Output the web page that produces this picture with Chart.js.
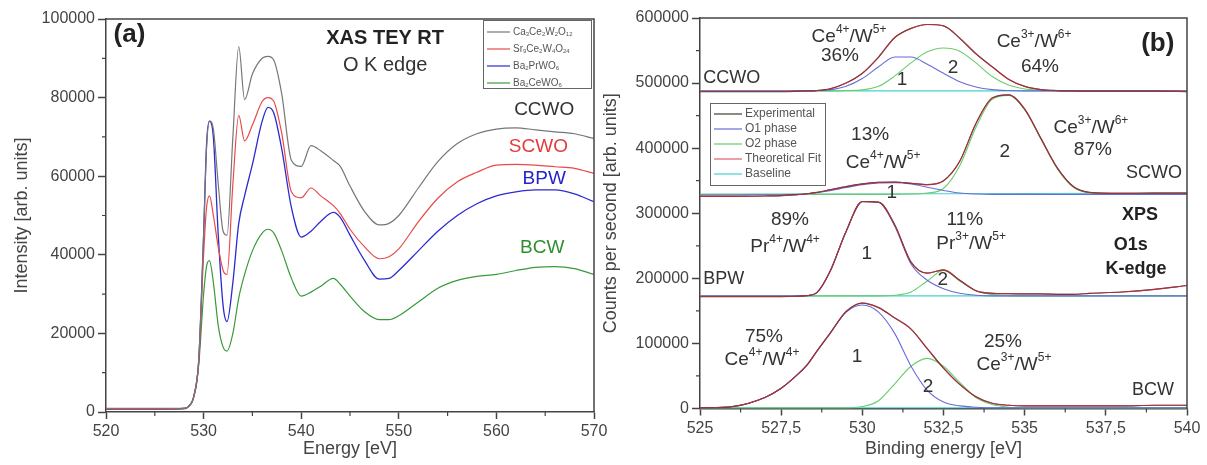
<!DOCTYPE html>
<html>
<head>
<meta charset="utf-8">
<script src="https://cdn.jsdelivr.net/npm/chart.js@4.4.0/dist/chart.umd.min.js"></script>
<style>
  html, body { margin: 0; padding: 0; background: #fff; }
  #wrap { position: relative; width: 1207px; height: 465px; overflow: hidden; }
  #chartA { position: absolute; left: 0; top: 0; }
  #chartB { position: absolute; left: 600px; top: 0; }
</style>
</head>
<body>
<div id="wrap">
  <canvas id="chartA" width="620" height="465"></canvas>
  <canvas id="chartB" width="607" height="465"></canvas>
</div>
<script>
// ---- Panel (a): XAS O K edge ----
const energyA = [520, 522, 524, 526, 528, 528.5, 529, 529.5, 530, 530.3,
  530.6, 531, 531.5, 532, 532.4, 533, 533.6, 534.2, 535, 536,
  536.6, 537.2, 538, 539, 540, 541, 542, 543.3, 544, 545,
  546.5, 548, 549, 550, 552, 554, 556, 558, 560, 562,
  564, 566, 568, 570];
const ccwoA = [900, 900, 900, 900, 1000, 1500, 4000, 13000, 45000, 67000,
  74000, 72000, 58000, 46000, 45000, 70000, 93000, 79500, 86000, 90000,
  90500, 89500, 81000, 64000, 62500, 67800, 66500, 64000, 62500, 57500,
  51000, 47600, 48000, 50000, 57000, 63700, 68300, 70800, 72000, 72300,
  71800, 71300, 70800, 69600];
const scwoA = [700, 700, 700, 700, 900, 1500, 4000, 13000, 40000, 52000,
  55000, 50000, 42000, 36000, 35000, 58000, 75500, 69000, 73000, 79000,
  80000, 79000, 71000, 56000, 54500, 57000, 55000, 52500, 50500, 46500,
  42000, 39000, 39500, 41500, 48400, 54400, 58600, 61000, 62800, 63000,
  62800, 62400, 62000, 60700];
const bpwA = [700, 700, 700, 700, 900, 1500, 4000, 13000, 45000, 68000,
  74000, 70000, 45000, 27000, 23000, 33000, 48000, 55000, 63000, 74000,
  77500, 76000, 67000, 52000, 44500, 46000, 48500, 50800, 49500, 45000,
  38500, 33800, 34000, 36000, 41000, 46000, 50000, 53000, 55000, 56000,
  56500, 56500, 55500, 53500];
const bcwA = [700, 700, 700, 700, 800, 1500, 4000, 12000, 30000, 37000,
  38500, 33000, 22000, 16500, 15500, 20000, 29000, 35000, 41000, 45500,
  46500, 45500, 41000, 34000, 29500, 30500, 32000, 34000, 32500, 29500,
  25500, 23500, 23500, 24500, 28000, 31500, 33500, 34500, 35000, 36000,
  36800, 37000, 36500, 35000];
const legendA = ['Ca_{3}Ce_{2}W_{2}O_{12}', 'Sr_{9}Ce_{2}W_{4}O_{24}', 'Ba_{2}PrWO_{6}', 'Ba_{2}CeWO_{6}'];

// ---- Panel (b): XPS O1s ----
const energyB = [525, 526, 527, 527.5, 528, 528.3, 528.6, 529, 529.5, 530,
  530.5, 531, 531.5, 532, 532.5, 533, 533.5, 534, 534.5, 535,
  535.5, 536, 536.5, 537, 538, 539, 540];
const baseEnergyB = [525, 540];

const ccwoExp = [487000, 487000, 487000, 487000, 487500, 488000, 488500, 491000, 500000, 515000,
  540000, 570000, 584000, 590000, 588000, 569000, 545000, 525000, 506000, 495000,
  490000, 488500, 488000, 487500, 487500, 487500, 487000];
const ccwoO1 = [488000, 488000, 488000, 488000, 488000, 488000, 488500, 489500, 495000, 507000,
  525000, 540000, 540000, 529000, 515000, 502000, 494000, 490000, 488500, 488000,
  488000, 488000, 488000, 488000, 488000, 488000, 488000];
const ccwoO2 = [488000, 488000, 488000, 488000, 488000, 488000, 488000, 488000, 488500, 489500,
  495000, 511000, 531000, 548000, 554000, 549000, 531000, 510000, 497000, 491000,
  489000, 488000, 488000, 488000, 488000, 488000, 488000];
const ccwoBase = [488000, 488000];

const scwoExp = [326000, 326000, 326500, 327000, 328500, 330000, 332000, 336000, 341000, 345000,
  347500, 348000, 346000, 344000, 350000, 380000, 438000, 477000, 482000, 460000,
  415000, 370000, 341000, 332000, 330500, 331000, 331000];
const scwoO1 = [328000, 328000, 328500, 328500, 329000, 330000, 331500, 334500, 339500, 344000,
  346500, 347000, 345000, 340000, 335000, 331000, 329500, 329000, 329000, 329000,
  329000, 329000, 329000, 329000, 329000, 329000, 329000];
const scwoO2 = [329000, 329000, 329000, 329000, 329000, 329000, 329000, 329000, 329000, 329000,
  329000, 329000, 329500, 331000, 338000, 373000, 432000, 475000, 481000, 459000,
  414000, 369000, 340000, 331500, 329500, 329000, 329000];
const scwoBase = [329000, 331000];

const bpwExp = [172000, 172000, 172000, 172000, 172500, 173500, 178000, 210000, 272000, 318000,
  317000, 282000, 225000, 208000, 213000, 197000, 181000, 177000, 176500, 176000,
  176000, 175500, 175500, 177000, 179000, 183000, 189000];
const bpwO1 = [173000, 173000, 173000, 173000, 173000, 173500, 178000, 210000, 272000, 318000,
  317000, 280000, 222000, 197000, 184000, 177000, 174000, 173000, 173000, 173000,
  173000, 173000, 173000, 173000, 173000, 173000, 173000];
const bpwO2 = [173000, 173000, 173000, 173000, 173000, 173000, 173000, 173000, 173000, 173000,
  173000, 174000, 179000, 196000, 212000, 196000, 181000, 175000, 173500, 173000,
  173000, 173000, 173000, 173000, 173000, 173000, 173000];
const bpwBase = [173000, 173000];

const bcwExp = [1000, 3000, 17000, 31000, 52000, 67000, 88000, 115000, 149000, 162000,
  155000, 139000, 122000, 92000, 62000, 37000, 18000, 8000, 5000, 4000,
  4000, 4000, 4000, 4000, 4000, 5000, 5000];
const bcwO1 = [1000, 3000, 17000, 31000, 52000, 67000, 88000, 115000, 148000, 159000,
  148000, 115000, 65000, 28000, 10000, 4000, 2000, 1000, 1000, 1000,
  1000, 1000, 1000, 1000, 1000, 1000, 1000];
const bcwO2 = [1000, 1000, 1000, 1000, 1000, 1000, 1000, 1000, 1000, 3000,
  12000, 38000, 65000, 77000, 65000, 40000, 17000, 6000, 2000, 1000,
  1000, 1000, 1000, 1000, 1000, 1000, 1000];
const bcwBase = [1000, 1000];
const legendB = ['Experimental', 'O1 phase', 'O2 phase', 'Theoretical Fit', 'Baseline'];

// ---- styling ----
const FONT = '"Liberation Sans", Arial, Helvetica, sans-serif';
Chart.defaults.font.family = FONT;
const colA = { ccwo: '#777777', scwo: '#e84a4a', bpw: '#2b2bd0', bcw: '#3a9a3a' };
const colB = { exp: '#3d3d30', o1: '#6b6bd6', o2: '#6ccc6c', fit: 'rgba(212,40,64,0.75)', base: '#45d2cc' };

function series(xs, ys) {
  return xs.map((x, i) => ({ x: x, y: ys[i] }));
}
function line(label, xs, ys, color, width) {
  return {
    label: label, data: series(xs, ys), borderColor: color, borderWidth: width,
    pointRadius: 0, fill: false, cubicInterpolationMode: 'monotone'
  };
}

// text with ^{sup} and _{sub}
function parseRich(text) {
  const parts = [];
  const re = /([\^_])\{([^}]*)\}/g;
  let last = 0, m;
  while ((m = re.exec(text))) {
    if (m.index > last) parts.push({ t: text.slice(last, m.index), k: 'n' });
    parts.push({ t: m[2], k: m[1] === '^' ? 'sup' : 'sub' });
    last = re.lastIndex;
  }
  if (last < text.length) parts.push({ t: text.slice(last), k: 'n' });
  return parts;
}
function drawRich(ctx, text, x, y, size, color, bold, align) {
  const parts = parseRich(text);
  const fontFor = k => (bold ? 'bold ' : '') + (k === 'n' ? size : Math.round(size * 0.62)) + 'px ' + FONT;
  let w = 0;
  parts.forEach(p => { ctx.font = fontFor(p.k); p.w = ctx.measureText(p.t).width; w += p.w; });
  let cx = align === 'left' ? x : align === 'right' ? x - w : x - w / 2;
  ctx.fillStyle = color;
  ctx.textBaseline = 'middle';
  ctx.textAlign = 'left';
  parts.forEach(p => {
    ctx.font = fontFor(p.k);
    const dy = p.k === 'sup' ? -size * 0.38 : p.k === 'sub' ? size * 0.22 : 0;
    ctx.fillText(p.t, cx, y + dy);
    cx += p.w;
  });
}

// frame on top/right + minor ticks
const frameMinor = {
  id: 'frameMinor',
  afterDraw(chart, args, o) {
    const { ctx, chartArea: a, scales: { x, y } } = chart;
    ctx.save();
    ctx.strokeStyle = '#444';
    ctx.lineWidth = 1.5;
    ctx.beginPath();
    ctx.moveTo(a.left, a.top);
    ctx.lineTo(a.right, a.top);
    ctx.lineTo(a.right, a.bottom);
    ctx.stroke();
    ctx.lineWidth = 1.2;
    ctx.beginPath();
    for (let v = x.min + o.xMinor; v < x.max; v += 2 * o.xMinor) {
      const px = x.getPixelForValue(v);
      ctx.moveTo(px, a.bottom);
      ctx.lineTo(px, a.bottom + 4);
    }
    for (let v = y.min + o.yMinor; v < y.max; v += 2 * o.yMinor) {
      const py = y.getPixelForValue(v);
      ctx.moveTo(a.left, py);
      ctx.lineTo(a.left - 4, py);
    }
    ctx.stroke();
    ctx.restore();
  }
};

// boxed legend inside the plot
const boxLegend = {
  id: 'boxLegend',
  afterDraw(chart, args, o) {
    const { ctx, chartArea: a } = chart;
    const left = a.left + o.dx, top = a.top + o.dy;
    ctx.save();
    ctx.strokeStyle = '#666';
    ctx.lineWidth = 1;
    ctx.strokeRect(left + 0.5, top + 0.5, o.w, o.h);
    o.items.forEach((it, i) => {
      const yy = top + o.first + i * o.step;
      ctx.strokeStyle = it.color;
      ctx.lineWidth = 1.2;
      ctx.beginPath();
      ctx.moveTo(left + 4, yy);
      ctx.lineTo(left + 4 + o.lineLen, yy);
      ctx.stroke();
      drawRich(ctx, it.text, left + 7 + o.lineLen, yy, o.size, '#555', false, 'left');
    });
    ctx.restore();
  }
};

// free text placed in data coordinates
const notes = {
  id: 'notes',
  afterDatasetsDraw(chart, args, o) {
    const { ctx, scales: { x, y } } = chart;
    ctx.save();
    o.items.forEach(n => {
      drawRich(ctx, n.t, x.getPixelForValue(n.x), y.getPixelForValue(n.y), n.size || 19,
        n.color || '#333', !!n.bold, n.align || 'center');
    });
    ctx.restore();
  }
};

function makeScales(o) {
  const tickFont = { size: 16, family: FONT };
  return {
    x: {
      type: 'linear', min: o.xMin, max: o.xMax,
      afterFit: s => { s.height = o.xHeight; },
      ticks: { stepSize: o.xStep, autoSkip: false, maxRotation: 0, color: '#444', font: tickFont, padding: 3,
        callback: o.xFormat },
      grid: { drawOnChartArea: false, tickLength: 7, tickWidth: 1.5, tickColor: '#444' },
      border: { color: '#444', width: 1.5 },
      title: { display: true, text: o.xTitle, color: '#444', font: { size: 18, family: FONT }, padding: { top: 0, bottom: 4 } }
    },
    y: {
      type: 'linear', min: o.yMin, max: o.yMax,
      afterFit: s => { s.width = o.yWidth; },
      ticks: { stepSize: o.yStep, autoSkip: false, color: '#444', font: tickFont, padding: 3, callback: v => String(v) },
      grid: { drawOnChartArea: false, tickLength: 8, tickWidth: 1.5, tickColor: '#444' },
      border: { color: '#444', width: 1.5 },
      title: { display: true, text: o.yTitle, color: '#444', font: { size: 18, family: FONT }, padding: { top: o.yTitlePad, bottom: 0 } }
    }
  };
}

// ---- chart (a) ----
new Chart(document.getElementById('chartA'), {
  type: 'line',
  data: {
    datasets: [
      line('CCWO', energyA, ccwoA, colA.ccwo, 1.2),
      line('SCWO', energyA, scwoA, colA.scwo, 1.2),
      line('BPW', energyA, bpwA, colA.bpw, 1.3),
      line('BCW', energyA, bcwA, colA.bcw, 1.2)
    ]
  },
  options: {
    responsive: false,
    animation: false,
    layout: { padding: { top: 19, right: 26, bottom: 1, left: 0 } },
    scales: makeScales({
      xMin: 520, xMax: 570, xStep: 10, xTitle: 'Energy [eV]', xHeight: 52,
      xFormat: v => String(v),
      yMin: 0, yMax: 100000, yStep: 20000, yTitle: 'Intensity [arb. units]', yWidth: 106, yTitlePad: 11
    }),
    plugins: {
      legend: { display: false },
      tooltip: { enabled: false },
      frameMinor: { xMinor: 5, yMinor: 10000 },
      boxLegend: {
        dx: 377, dy: 1, w: 108, h: 68, first: 12, step: 17, lineLen: 23, size: 10,
        items: legendA.map((t, i) => ({ text: t, color: [colA.ccwo, colA.scwo, colA.bpw, colA.bcw][i] }))
      },
      notes: {
        items: [
          { t: '(a)', x: 522.4, y: 96000, size: 26, bold: true, color: '#222' },
          { t: 'XAS TEY RT', x: 548.6, y: 95000, size: 20, bold: true, color: '#222' },
          { t: 'O K edge', x: 548.6, y: 88200, size: 20, color: '#333' },
          { t: 'CCWO', x: 564.9, y: 76800, size: 19, color: '#333' },
          { t: 'SCWO', x: 564.3, y: 67500, size: 19, color: '#e23c3c' },
          { t: 'BPW', x: 564.9, y: 59400, size: 19, color: '#2424c8' },
          { t: 'BCW', x: 564.7, y: 41700, size: 19, color: '#2f8f2f' }
        ]
      }
    }
  },
  plugins: [frameMinor, boxLegend, notes]
});

// ---- chart (b) ----
const samplesB = [
  [ccwoExp, ccwoO1, ccwoO2, ccwoBase],
  [scwoExp, scwoO1, scwoO2, scwoBase],
  [bpwExp, bpwO1, bpwO2, bpwBase],
  [bcwExp, bcwO1, bcwO2, bcwBase]
];
const datasetsB = [];
samplesB.forEach(s => {
  datasetsB.push(line('Theoretical Fit', energyB, s[0], colB.fit, 1.1));
  datasetsB.push(line('Experimental', energyB, s[0], colB.exp, 1.2));
  datasetsB.push(line('O1 phase', energyB, s[1], colB.o1, 1.1));
  datasetsB.push(line('O2 phase', energyB, s[2], colB.o2, 1.1));
  datasetsB.push(line('Baseline', baseEnergyB, s[3], colB.base, 1.1));
});

new Chart(document.getElementById('chartB'), {
  type: 'line',
  data: { datasets: datasetsB },
  options: {
    responsive: false,
    animation: false,
    layout: { padding: { top: 18, right: 20, bottom: 1, left: 0 } },
    scales: makeScales({
      xMin: 525, xMax: 540, xStep: 2.5, xTitle: 'Binding energy [eV]', xHeight: 55.5,
      xFormat: v => String(v).replace('.', ','),
      yMin: 0, yMax: 600000, yStep: 100000, yTitle: 'Counts per second [arb. units]', yWidth: 100, yTitlePad: 0
    }),
    plugins: {
      legend: { display: false },
      tooltip: { enabled: false },
      frameMinor: { xMinor: 1.25, yMinor: 50000 },
      boxLegend: {
        dx: 10, dy: 85, w: 115, h: 82, first: 11, step: 15, lineLen: 28, size: 12,
        items: legendB.map((t, i) => ({ text: t, color: [colB.exp, colB.o1, colB.o2, colB.fit, colB.base][i] }))
      },
      notes: {
        items: [
          { t: 'Ce^{4+}/W^{5+}', x: 529.59, y: 571500 },
          { t: '36%', x: 529.31, y: 542000 },
          { t: '1', x: 531.22, y: 505000 },
          { t: '2', x: 532.79, y: 524000 },
          { t: 'Ce^{3+}/W^{6+}', x: 535.29, y: 564000 },
          { t: '64%', x: 535.47, y: 525000 },
          { t: '(b)', x: 539.1, y: 561000, size: 26, bold: true, color: '#222' },
          { t: 'CCWO', x: 525.1, y: 508000, size: 18, align: 'left' },
          { t: '13%', x: 530.24, y: 421000 },
          { t: 'Ce^{4+}/W^{5+}', x: 530.64, y: 377700 },
          { t: '1', x: 530.91, y: 331500 },
          { t: '2', x: 534.39, y: 394600 },
          { t: 'Ce^{3+}/W^{6+}', x: 537.04, y: 431000 },
          { t: '87%', x: 537.1, y: 397700 },
          { t: 'SCWO', x: 538.98, y: 362000, size: 18 },
          { t: '89%', x: 527.77, y: 290000 },
          { t: 'Pr^{4+}/W^{4+}', x: 527.62, y: 248000 },
          { t: '1', x: 530.14, y: 237700 },
          { t: '11%', x: 533.16, y: 290000 },
          { t: 'Pr^{3+}/W^{5+}', x: 533.35, y: 253000 },
          { t: '2', x: 532.48, y: 197700 },
          { t: 'XPS', x: 538.55, y: 297700, size: 18, bold: true, color: '#222' },
          { t: 'O1s', x: 538.27, y: 251500, size: 18, bold: true, color: '#222' },
          { t: 'K-edge', x: 538.43, y: 214600, size: 18, bold: true, color: '#222' },
          { t: 'BPW', x: 525.1, y: 199000, size: 18, align: 'left' },
          { t: '75%', x: 526.97, y: 110000 },
          { t: 'Ce^{4+}/W^{4+}', x: 526.91, y: 74600 },
          { t: '1', x: 529.84, y: 79000 },
          { t: '2', x: 532.02, y: 33000 },
          { t: '25%', x: 534.33, y: 102000 },
          { t: 'Ce^{3+}/W^{5+}', x: 534.67, y: 67000 },
          { t: 'BCW', x: 538.95, y: 28500, size: 18 }
        ]
      }
    }
  },
  plugins: [frameMinor, boxLegend, notes]
});
</script>
</body>
</html>
